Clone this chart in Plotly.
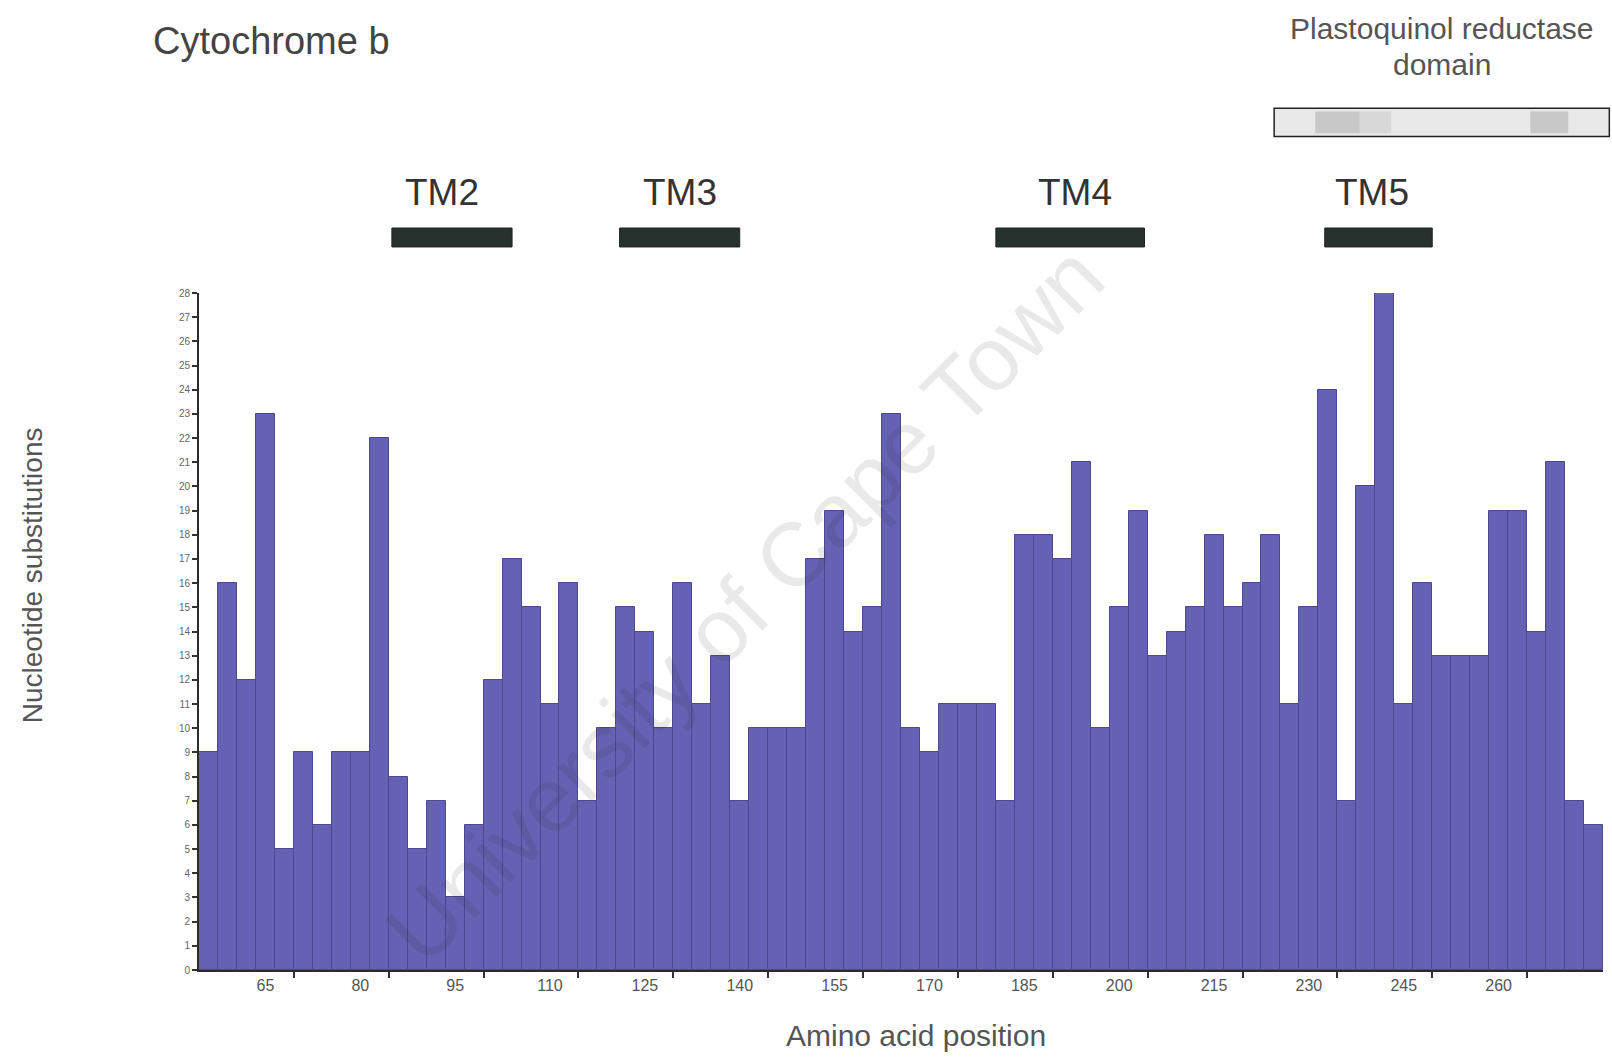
import plotly.graph_objects as go

# Residue bins along cytochrome b (3 residues per bin, first bin starting at residue 55)
bin_start = list(range(55, 277, 3))

# Nucleotide substitutions counted in each bin
substitutions = [
    9, 16, 12, 23, 5, 9, 6, 9, 9, 22,
    8, 5, 7, 3, 6, 12, 17, 15, 11, 16,
    7, 10, 15, 14, 10, 16, 11, 13, 7, 10,
    10, 10, 17, 19, 14, 15, 23, 10, 9, 11,
    11, 11, 7, 18, 18, 17, 21, 10, 15, 19,
    13, 14, 15, 18, 15, 16, 18, 11, 15, 24,
    7, 20, 28, 11, 16, 13, 13, 13, 19, 19,
    14, 21, 7, 6,
]

# Axis labelling
x_tick_labels = [65, 80, 95, 110, 125, 140, 155, 170, 185, 200, 215, 230, 245, 260]
y_tick_labels = list(range(0, 29))

# Transmembrane helices (residue ranges and label anchors)
tm_names = ["TM2", "TM3", "TM4", "TM5"]
tm_start = [85, 121, 180.5, 232.5]
tm_end = [104, 140, 204, 249.5]
tm_label_at = [93, 130.5, 193, 240]

# Plastoquinol reductase domain (residue range)
domain_name = "Plastoquinol reductase"
domain_start = 224.5
domain_end = 277.5

FONT = "Liberation Sans, Arial, sans-serif"
BAR = "#6561b3"
BAR_EDGE = "#4b4790"

bin_centres = [s + 1 for s in bin_start]
x_lo = bin_centres[0] - 1.5
x_hi = bin_centres[-1] + 1.5


def to_paper(residue):
    return (residue - x_lo) / (x_hi - x_lo)


fig = go.Figure(
    go.Bar(
        x=bin_centres,
        y=substitutions,
        width=3,
        marker=dict(color=BAR, line=dict(color=BAR_EDGE, width=1)),
        hoverinfo="x+y",
    )
)

# Tick marks every five bins, sitting on the bin boundaries
boundary_ticks = [x_lo + 15 * k for k in range(1, 15)]

fig.update_layout(
    width=1612,
    height=1057,
    margin=dict(l=199, r=9, t=293, b=87),
    paper_bgcolor="white",
    plot_bgcolor="white",
    bargap=0,
    showlegend=False,
    font=dict(family=FONT, color="#444"),
    xaxis=dict(
        range=[x_lo, x_hi],
        tickmode="array",
        tickvals=x_tick_labels,
        ticktext=[str(v) for v in x_tick_labels],
        ticks="",
        tickfont=dict(size=16, color="#555"),
        showline=True,
        linecolor="#2b2b2b",
        linewidth=2,
        showgrid=False,
        zeroline=False,
        minor=dict(
            tickmode="array",
            tickvals=boundary_ticks,
            ticks="outside",
            ticklen=6,
            tickwidth=1.5,
            tickcolor="#333",
            showgrid=False,
        ),
    ),
    yaxis=dict(
        range=[0, 28],
        tickmode="array",
        tickvals=y_tick_labels,
        ticktext=[str(v) for v in y_tick_labels],
        ticks="outside",
        ticklen=5,
        tickwidth=1.5,
        tickcolor="#333",
        tickfont=dict(size=10, color="#666"),
        showline=True,
        linecolor="#2b2b2b",
        linewidth=2,
        showgrid=False,
        zeroline=False,
    ),
)

shapes = []
annotations = []

# Transmembrane helix bars and labels above the plot
for name, a, b, lab in zip(tm_names, tm_start, tm_end, tm_label_at):
    shapes.append(dict(
        type="rect", xref="x", yref="paper",
        x0=a, x1=b, y0=1.068, y1=1.096,
        fillcolor="#27322f", line=dict(color="#1e2624", width=1),
    ))
    annotations.append(dict(
        xref="x", yref="paper", x=lab, y=1.149,
        text=name, showarrow=False,
        font=dict(family=FONT, size=37, color="#333"),
        xanchor="center", yanchor="middle",
    ))

# Domain box with a light stippled fill
shapes.append(dict(
    type="rect", xref="paper", yref="paper",
    x0=to_paper(domain_start), x1=to_paper(domain_end), y0=1.231, y1=1.273,
    fillcolor="#e8e8e8", line=dict(color="#222", width=1.5),
))
for c0, c1, op in [(231, 238, 0.28), (238, 243, 0.14), (265, 271, 0.28)]:
    shapes.append(dict(
        type="rect", xref="paper", yref="paper",
        x0=to_paper(c0), x1=to_paper(c1), y0=1.236, y1=1.268,
        fillcolor=f"rgba(120,120,120,{op})", line=dict(width=0),
    ))
domain_mid = (domain_start + domain_end) / 2
annotations.append(dict(
    xref="paper", yref="paper", x=to_paper(domain_mid), y=1.390,
    text=domain_name, showarrow=False,
    font=dict(family=FONT, size=30, color="#555"),
    xanchor="center", yanchor="middle",
))
annotations.append(dict(
    xref="paper", yref="paper", x=to_paper(domain_mid), y=1.338,
    text="domain", showarrow=False,
    font=dict(family=FONT, size=30, color="#555"),
    xanchor="center", yanchor="middle",
))

# Chart title
annotations.append(dict(
    xref="paper", yref="paper", x=-0.0344, y=1.372,
    text="Cytochrome b", showarrow=False,
    font=dict(family=FONT, size=38, color="#444"),
    xanchor="left", yanchor="middle",
))

# Axis titles
annotations.append(dict(
    xref="paper", yref="paper", x=-0.119, y=0.583,
    text="Nucleotide substitutions", showarrow=False, textangle=-90,
    font=dict(family=FONT, size=28, color="#555"),
    xanchor="center", yanchor="middle",
))
annotations.append(dict(
    xref="paper", yref="paper", x=0.511, y=-0.097,
    text="Amino acid position", showarrow=False,
    font=dict(family=FONT, size=30, color="#555"),
    xanchor="center", yanchor="middle",
))

# Watermark
annotations.append(dict(
    xref="paper", yref="paper", x=0.389, y=0.54,
    text="University of Cape Town", showarrow=False, textangle=-45,
    font=dict(family=FONT, size=90, color="rgba(40,40,40,0.10)"),
    xanchor="center", yanchor="middle",
))

fig.update_layout(shapes=shapes, annotations=annotations)

fig.write_html("out.html")
